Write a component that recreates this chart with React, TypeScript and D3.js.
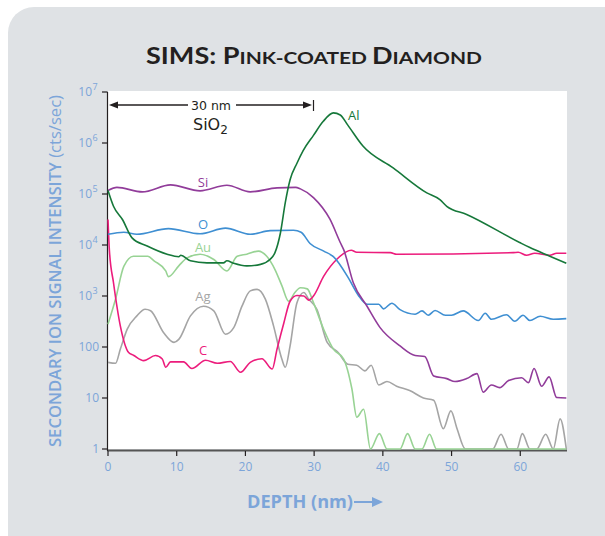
import React from "react";
import * as d3 from "d3";

// depth in nm, intensity in counts/sec
const siDepth = [0, 1.3, 5.0, 9.1, 13.4, 17.3, 20.7, 24.6, 27.3, 28.0, 29.9, 32.3, 33.8, 34.3, 35.7, 37.7, 39.6, 42.5, 44.7, 46.1, 47.4, 49.3, 50.5, 52.2, 53.7, 54.6, 55.8, 57.0, 58.3, 60.2, 61.2, 62.0, 63.1, 64.2, 65.3, 66.7];
const siValues = [117000, 135000, 110000, 151000, 115000, 148000, 110000, 132000, 135000, 126000, 85000, 32000, 11200, 8100, 1820, 630, 240, 105, 68, 65, 27, 24, 21, 24, 30, 13, 18, 16, 22, 25, 20, 38, 17, 26, 10.2, 10];

const oDepth = [0, 2.3, 4.2, 8.8, 13.4, 17.1, 20.7, 23.6, 27.0, 28.1, 29.4, 31.4, 32.8, 35.0, 36.4, 37.7, 39.4, 40.1, 41.3, 42.5, 44.7, 45.7, 46.6, 47.6, 49.1, 50.0, 51.7, 53.9, 54.9, 55.8, 58.0, 59.2, 60.4, 61.4, 62.9, 64.8, 66.7];
const oValues = [16200, 17800, 16200, 20900, 16600, 21400, 16200, 19100, 19500, 17800, 10700, 7600, 5900, 2240, 1050, 690, 690, 560, 720, 540, 440, 510, 420, 520, 420, 420, 510, 330, 460, 350, 430, 320, 420, 330, 400, 350, 360];

const alDepth = [0, 0.8, 2.1, 3.5, 5.7, 8.6, 10.3, 10.6, 12.0, 14.4, 16.8, 17.3, 18.3, 20.2, 22.2, 23.6, 24.3, 25.1, 25.8, 26.5, 27.5, 28.4, 29.9, 31.3, 32.8, 33.8, 34.9, 37.1, 41.5, 46.4, 48.3, 49.3, 52.2, 59.9, 61.4, 64.3, 66.7];
const alValues = [117000, 57500, 31600, 13800, 9550, 6600, 5900, 6300, 4900, 4470, 4470, 4900, 4370, 3890, 4170, 5250, 7080, 17400, 67600, 190000, 400000, 708000, 1410000, 2630000, 3890000, 3550000, 2240000, 871000, 324000, 105000, 77600, 57500, 39800, 11200, 8910, 6030, 4370];

const cDepth = [0, 0.2, 0.8, 1.8, 3.0, 3.7, 5.2, 6.9, 7.9, 8.4, 9.1, 11.0, 12.2, 14.2, 15.9, 17.8, 19.3, 20.7, 22.4, 23.9, 24.6, 25.6, 26.5, 27.5, 28.5, 29.2, 29.9, 31.4, 33.3, 35.4, 36.2, 41.1, 42.0, 59.0, 59.7, 60.9, 62.1, 64.3, 65.3, 66.7];
const cValues = [31600, 7900, 1820, 257, 78, 69, 54, 68, 58, 40, 51, 51, 38, 55, 48, 52, 32, 50, 59, 37, 91, 300, 790, 1020, 1000, 830, 1000, 2450, 5250, 7900, 7200, 7100, 6600, 7100, 7200, 6300, 6900, 6300, 6900, 6900];

const auDepth = [0, 1.1, 2.3, 3.7, 5.8, 6.7, 8.4, 8.8, 10.3, 11.5, 13.4, 15.4, 17.3, 18.8, 20.2, 21.9, 23.1, 24.3, 25.3, 26.3, 27.2, 28.0, 29.0, 29.9, 31.4, 32.8, 34.3, 35.5, 36.2, 37.2, 38.2, 39.5, 40.6, 42.5, 43.6, 44.7, 45.7, 46.8, 47.8, 66.7];
const auValues = [280, 870, 3800, 6000, 6000, 4900, 3100, 2400, 3900, 5600, 6600, 5200, 3100, 6000, 6600, 7600, 6000, 3300, 1600, 790, 1170, 1450, 1380, 740, 220, 91, 58, 15, 4.2, 6, 1, 2, 1, 1, 2, 1, 1, 1.95, 1, 1];

const agDepth = [0, 1.1, 1.8, 2.8, 4.2, 5.4, 6.2, 8.1, 9.6, 10.3, 12.0, 13.9, 15.4, 17.1, 18.3, 19.5, 20.7, 21.7, 22.9, 24.1, 25.3, 25.8, 26.5, 27.5, 28.5, 29.2, 30.4, 31.9, 33.5, 34.9, 36.2, 37.4, 38.3, 39.4, 40.6, 42.0, 43.9, 45.9, 47.4, 48.8, 49.9, 50.8, 52.0, 56.0, 57.2, 58.3, 59.5, 60.3, 61.4, 62.4, 63.7, 64.8, 65.8, 66.7];
const agValues = [50, 48, 91, 224, 407, 550, 513, 190, 123, 141, 407, 631, 513, 178, 240, 631, 1260, 1350, 871, 257, 58, 40, 105, 741, 1170, 871, 550, 123, 78, 46, 44, 34, 44, 18, 21, 17, 14, 10, 9, 2.5, 5.6, 2.5, 1, 1, 1.95, 1, 1, 2, 1, 1, 1.95, 1, 3.9, 1];

const xTicks = [0, 10, 20, 30, 40, 50, 60];
const yTicks = [1, 10, 100, 1e3, 1e4, 1e5, 1e6, 1e7];
const yTickLabels = [["1", ""], ["10", ""], ["100", ""], ["10", "3"], ["10", "4"], ["10", "5"], ["10", "6"], ["10", "7"]];

const series = [
  { name: "Ag", depth: agDepth, values: agValues, color: "#a5a5a5", lx: 203, ly: 301 },
  { name: "Au", depth: auDepth, values: auValues, color: "#98d394", lx: 203, ly: 252 },
  { name: "C", depth: cDepth, values: cValues, color: "#ec1c7c", lx: 203, ly: 355 },
  { name: "O", depth: oDepth, values: oValues, color: "#3f8fd2", lx: 203, ly: 229 },
  { name: "Si", depth: siDepth, values: siValues, color: "#913c9a", lx: 203, ly: 187 },
  { name: "Al", depth: alDepth, values: alValues, color: "#16783a", lx: 348, ly: 120 },
];

const W = 605, H = 536;
const left = 108, right = 567, top = 92, bottom = 449;
const blue = "#7ca5d9";
const ink = "#231f20";

export default function App() {
  const x = d3.scaleLinear().domain([0, 66.8]).range([left, right]);
  const y = d3.scaleLog().domain([1, 1e7]).range([bottom, top]);
  const line = d3.line<[number, number]>()
    .x(d => x(d[0]))
    .y(d => y(d[1]))
    .curve(d3.curveMonotoneX);

  return (
    <svg width={W} height={H} style={{ position: "absolute", left: 0, top: 0 }}>
      <rect x={0} y={0} width={W} height={H} fill="#fff" />
      <rect x={8} y={7} width={W + 40} height={H + 40} rx={26} fill="#dfe2e5" />
      <rect x={left} y={91} width={right - left} height={bottom - 91} fill="#fff" />

      <text x={314} y={64} textAnchor="middle" fill={ink} fontFamily="Lato, 'Open Sans', sans-serif" fontWeight="bold"
        textLength={336} lengthAdjust="spacingAndGlyphs">
        <tspan fontSize={22}>SIMS: P</tspan>
        <tspan fontSize={17}>INK-COATED </tspan>
        <tspan fontSize={22}>D</tspan>
        <tspan fontSize={17}>IAMOND</tspan>
      </text>

      {/* axes */}
      <line x1={left - 0.5} x2={right} y1={bottom + 1.5} y2={bottom + 1.5} stroke="#555" strokeWidth={2} />
      <line x1={left - 0.5} x2={left - 0.5} y1={top} y2={bottom + 2} stroke={ink} strokeWidth={1.2} />
      {yTicks.map((t, i) => (
        <g key={t}>
          <line x1={left - 6} x2={left - 0.5} y1={y(t)} y2={y(t)} stroke={ink} strokeWidth={1.2} />
          <text x={yTickLabels[i][1] ? 92 : 99} y={y(t) + 4} textAnchor="end" fill={blue}
            fontFamily="'Open Sans', sans-serif" fontSize={12}>
            {yTickLabels[i][0]}
          </text>
          {yTickLabels[i][1] && (
            <text x={92.5} y={y(t) - 2} fill={blue} fontFamily="'Open Sans', sans-serif" fontSize={9}>
              {yTickLabels[i][1]}
            </text>
          )}
        </g>
      ))}
      {xTicks.map(t => (
        <g key={t}>
          <line x1={x(t)} x2={x(t)} y1={bottom + 2} y2={bottom + 7} stroke={ink} strokeWidth={1.2} />
          <text x={x(t)} y={471} textAnchor="middle" fill={blue} fontFamily="'Open Sans', sans-serif" fontSize={12}>{t}</text>
        </g>
      ))}

      {/* series */}
      {series.map(s => (
        <path key={s.name} d={line(s.depth.map((d, i) => [d, s.values[i]] as [number, number])) || ""}
          fill="none" stroke={s.color} strokeWidth={1.6} strokeLinejoin="round" />
      ))}
      {series.map(s => (
        <text key={s.name + "l"} x={s.lx} y={s.ly} textAnchor={s.name === "Al" ? "start" : "middle"} fill={s.color}
          fontFamily="'Open Sans', sans-serif" fontSize={13}>{s.name}</text>
      ))}

      {/* 30 nm SiO2 annotation */}
      <g stroke={ink} strokeWidth={1.5} fill={ink}>
        <line x1={112} x2={188} y1={105} y2={105} />
        <line x1={236} x2={308} y1={105} y2={105} />
        <path d="M109,105 L118,101.5 L118,108.5 Z" stroke="none" />
        <path d="M312,105 L303,101.5 L303,108.5 Z" stroke="none" />
        <line x1={313.5} x2={313.5} y1={100} y2={111} strokeWidth={1.2} />
      </g>
      <text x={211} y={110} textAnchor="middle" fill={ink} fontFamily="'DejaVu Sans', sans-serif" fontSize={12.5}>30 nm</text>
      <text x={193} y={130} fill={ink} fontFamily="'DejaVu Sans', sans-serif" fontSize={16}>
        SiO<tspan fontSize={12} dy={4}>2</tspan>
      </text>

      {/* axis titles */}
      <text transform="translate(61,271) rotate(-90)" textAnchor="middle" fill={blue}
        fontFamily="'Open Sans', sans-serif" fontWeight="600" fontSize={15.5} textLength={352} lengthAdjust="spacingAndGlyphs">
        SECONDARY ION SIGNAL INTENSITY <tspan fontWeight="normal">(cts/sec)</tspan>
      </text>
      <text x={247} y={508} fill={blue} fontFamily="'Open Sans', sans-serif" fontWeight="bold" fontSize={17}
        textLength={106} lengthAdjust="spacingAndGlyphs">DEPTH (nm)</text>
      <line x1={354} x2={376} y1={502} y2={502} stroke={blue} strokeWidth={2} />
      <path d="M383,502 L372,497 L372,507 Z" fill={blue} />
    </svg>
  );
}
